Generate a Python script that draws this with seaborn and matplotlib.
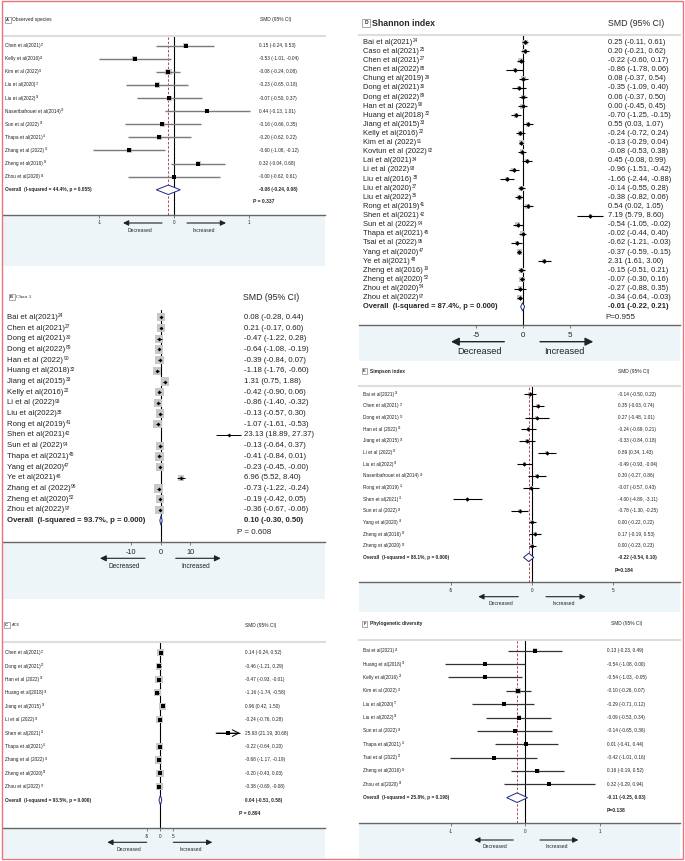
import numpy as np
import pandas as pd
import seaborn as sns
import matplotlib.pyplot as plt
from matplotlib import transforms
from matplotlib.patches import Rectangle, Polygon, FancyArrowPatch

W, H = 685, 861

sns.set_theme(style='white')
plt.rcParams['font.family'] = ['Liberation Sans', 'DejaVu Sans']

# ---- data --------------------------------------------------------------
A_study = ["Chen et al(2021)", "Kelly et al(2016)", "Kim et al (2022)", "Liu et al(2020)",
           "Liu et al(2022)", "Naseribafrouei et al(2014)", "Sun et al (2022)",
           "Thapa et al(2021)", "Zhang et al (2022)", "Zheng et al(2016)", "Zhou et al(2020)"]
A_ref = [27, 22, 91, 37, 36, 40, 94, 45, 96, 19, 54]
A_smd = [0.15, -0.53, -0.08, -0.23, -0.07, 0.44, -0.16, -0.20, -0.60, 0.32, -0.00]
A_lo = [-0.24, -1.01, -0.24, -0.65, -0.50, -0.13, -0.66, -0.62, -1.08, -0.04, -0.62]
A_hi = [0.53, -0.04, 0.08, 0.18, 0.37, 1.01, 0.35, 0.22, -0.12, 0.68, 0.61]
A_overall = [-0.08, -0.24, 0.08]
A_stats = [44.4, 0.055, 0.337]

B_study = ["Bai et al(2021)", "Chen et al(2021)", "Dong et al(2021)", "Dong et al(2022)",
           "Han et al (2022)", "Huang et al(2018)", "Jiang et al(2015)", "Kelly et al(2016)",
           "Li et al (2022)", "Liu et al(2022)", "Rong et al(2019)", "Shen et al(2021)",
           "Sun et al (2022)", "Thapa et al(2021)", "Yang et al(2020)", "Ye et al(2021)",
           "Zhang et al (2022)", "Zheng et al(2020)", "Zhou et al(2022)"]
B_ref = [24, 27, 30, 89, 90, 32, 33, 22, 93, 38, 41, 42, 94, 45, 47, 48, 96, 52, 97]
B_smd = [0.08, 0.21, -0.47, -0.64, -0.39, -1.18, 1.31, -0.42, -0.86, -0.13, -1.07, 23.13,
         -0.13, -0.41, -0.23, 6.96, -0.73, -0.19, -0.36]
B_lo = [-0.28, -0.17, -1.22, -1.08, -0.84, -1.76, 0.75, -0.90, -1.40, -0.57, -1.61, 18.89,
        -0.64, -0.84, -0.45, 5.52, -1.22, -0.42, -0.67]
B_hi = [0.44, 0.60, 0.28, -0.19, 0.07, -0.60, 1.88, 0.06, -0.32, 0.30, -0.53, 27.37,
        0.37, 0.01, -0.00, 8.40, -0.24, 0.05, -0.06]
B_overall = [0.10, -0.30, 0.50]
B_stats = [93.7, 0.000, 0.608]

C_study = ["Chen et al(2021)", "Dong et al(2021)", "Han et al (2022)", "Huang et al(2018)",
           "Jiang et al(2015)", "Li et al (2022)", "Shen et al(2021)", "Thapa et al(2021)",
           "Zhang et al (2022)", "Zheng et al(2020)", "Zhou et al(2022)"]
C_ref = [27, 30, 90, 32, 33, 93, 42, 45, 96, 52, 97]
C_smd = [0.14, -0.46, -0.47, -1.16, 0.96, -0.24, 25.93, -0.22, -0.68, -0.20, -0.38]
C_lo = [-0.24, -1.21, -0.93, -1.74, 0.42, -0.76, 21.19, -0.64, -1.17, -0.43, -0.69]
C_hi = [0.52, 0.29, -0.01, -0.58, 1.50, 0.28, 30.68, 0.20, -0.19, 0.03, -0.08]
C_overall = [0.04, -0.51, 0.58]
C_stats = [93.5, 0.000, 0.894]

D_study = ["Bai et al(2021)", "Caso et al(2021)", "Chen et al(2021)", "Chen et al(2022)",
           "Chung et al(2019)", "Dong et al(2021)", "Dong et al(2022)", "Han et al (2022)",
           "Huang et al(2018)", "Jiang et al(2015)", "Kelly et al(2016)", "Kim et al (2022)",
           "Kovtun et al (2022)", "Lai et al(2021)", "Li et al (2022)", "Liu et al(2016)",
           "Liu et al(2020)", "Liu et al(2022)", "Rong et al(2019)", "Shen et al(2021)",
           "Sun et al (2022)", "Thapa et al(2021)", "Tsai et al (2022)", "Yang et al(2020)",
           "Ye et al(2021)", "Zheng et al(2016)", "Zheng et al(2020)", "Zhou et al(2020)",
           "Zhou et al(2022)"]
D_ref = [24, 25, 27, 88, 29, 30, 89, 90, 32, 33, 22, 91, 92, 34, 93, 38, 37, 36, 41, 42,
         94, 45, 95, 47, 48, 19, 52, 54, 97]
D_smd = [0.25, 0.20, -0.22, -0.86, 0.08, -0.35, 0.06, 0.00, -0.70, 0.55, -0.24, -0.13,
         -0.08, 0.45, -0.96, -1.66, -0.14, -0.38, 0.54, 7.19, -0.54, -0.02, -0.62, -0.37,
         2.31, -0.15, -0.07, -0.27, -0.34]
D_lo = [-0.11, -0.21, -0.60, -1.78, -0.37, -1.09, -0.37, -0.45, -1.25, 0.03, -0.72, -0.29,
        -0.53, -0.08, -1.51, -2.44, -0.55, -0.82, 0.02, 5.79, -1.05, -0.44, -1.21, -0.59,
        1.61, -0.51, -0.30, -0.88, -0.64]
D_hi = [0.61, 0.62, 0.17, 0.06, 0.54, 0.40, 0.50, 0.45, -0.15, 1.07, 0.24, 0.04, 0.38,
        0.99, -0.42, -0.88, 0.28, 0.06, 1.05, 8.60, -0.02, 0.40, -0.03, -0.15, 3.00, 0.21,
        0.16, 0.35, -0.03]
D_overall = [-0.01, -0.22, 0.21]
D_stats = [87.4, 0.000, 0.955]

E_study = ["Bai et al(2021)", "Chen et al(2021)", "Dong et al(2021)", "Han et al (2022)",
           "Jiang et al(2015)", "Li et al (2022)", "Liu et al(2022)",
           "Naseribafrouei et al(2014)", "Rong et al(2019)", "Shen et al(2021)",
           "Sun et al (2022)", "Yang et al(2020)", "Zheng et al(2016)", "Zheng et al(2020)"]
E_ref = [24, 27, 30, 90, 33, 93, 36, 40, 41, 42, 94, 47, 19, 52]
E_smd = [-0.14, 0.35, 0.27, -0.24, -0.33, 0.89, -0.49, 0.30, -0.07, -4.00, -0.78, 0.00,
         0.17, 0.00]
E_lo = [-0.50, -0.03, -0.48, -0.69, -0.84, 0.34, -0.93, -0.27, -0.57, -4.89, -1.30, -0.22,
        -0.19, -0.23]
E_hi = [0.22, 0.74, 1.01, 0.21, 0.18, 1.43, -0.04, 0.86, 0.43, -3.11, -0.25, 0.22, 0.53,
        0.23]
E_overall = [-0.22, -0.54, 0.10]
E_stats = [88.1, 0.000, 0.184]

F_study = ["Bai et al(2021)", "Huang et al(2018)", "Kelly et al(2016)", "Kim et al (2022)",
           "Liu et al(2020)", "Liu et al(2022)", "Sun et al (2022)", "Thapa et al(2021)",
           "Tsai et al (2022)", "Zheng et al(2016)", "Zhou et al(2020)"]
F_ref = [24, 32, 22, 91, 37, 36, 94, 45, 95, 19, 54]
F_smd = [0.13, -0.54, -0.54, -0.10, -0.29, -0.09, -0.14, 0.01, -0.42, 0.16, 0.32]
F_lo = [-0.23, -1.08, -1.03, -0.26, -0.71, -0.53, -0.65, -0.41, -1.01, -0.19, -0.29]
F_hi = [0.49, 0.00, -0.05, 0.07, 0.12, 0.34, 0.36, 0.44, 0.16, 0.52, 0.94]
F_overall = [-0.11, -0.25, 0.03]
F_stats = [25.8, 0.198, 0.138]

# ---- layout (pixels in the 685x861 canvas) -----------------------------
SMALL = dict(fs=3.4, box_fs=3.0, title_fs=3.5, smd_fs=3.5, tick_fs=3.3, dec_fs=3.6,
             p_fs=3.6, p_w='bold', ci_lw=1.0, dot='s', dot_s=5, dh=0.36, d_lw=0.7,
             arr_ms=8, arr_lw=0.8, clip=np.inf, sep_line=True, title_family=None)

GEO_A = dict(SMALL, left=3, right=325, sep=36, axis=215, band=265.7, zero=174.3, ppu=75,
             row0=45.7, step=13.1, lab_x=5, val_x=259, hdr_y=20, box_x=7.8, title_x=12.5,
             title_w='normal', smd_x=260, p_x=253, p_y=201.7, p_fmt='P = {:.3f}',
             ticks=[-1, 0, 1], tick_y=222.7, arrow_y=223, arr_l=(162, 123),
             arr_r=(187, 226), dec_y=230, dec_x=140, inc_x=204, ci='#7a7a7a',
             box=6.5, tau2=0.05, dash=True)

GEO_B = dict(SMALL, left=3, right=325, sep=310, axis=542.3, band=599, zero=160.7, ppu=2.95,
             row0=317.3, step=10.7, lab_x=6.7, val_x=244, fs=5.6, hdr_y=297, box_x=11.7,
             title_x=16.5, title_fs=3.9, title_w='normal', title_family='Liberation Serif',
             smd_x=243, smd_fs=6.3, p_x=237.3, p_y=532.7, p_fmt='P = {:.3f}', p_fs=5.8,
             p_w='normal', ticks=[-10, 0, 10], tick_fs=5.2, tick_y=553, arrow_y=558.3,
             arr_l=(145, 100), arr_r=(175.7, 220.7), dec_y=566, dec_x=124.3, inc_x=196,
             dec_fs=4.7, ci='black', ci_lw=0.7, dot='D', dot_s=4, box=8.5, tau2=0.6,
             dh=0.45, dash=False, sep_line=False, arr_ms=9)

GEO_C = dict(SMALL, left=3, right=325, sep=642, axis=827.7, band=858, zero=160.3, ppu=2.63,
             row0=652.7, step=13.4, lab_x=5, val_x=245, hdr_y=625, box_x=6.8, title_x=11.5,
             title_fs=2.9, title_w='normal', smd_x=245, p_x=239, p_y=813.3,
             p_fmt='P = {:.3f}', ticks=[-5, 0, 5], tick_y=836.7, arrow_y=842.3,
             arr_l=(146.7, 107.3), arr_r=(173.3, 212.3), dec_y=849.3, dec_x=129.3,
             inc_x=191, ci='black', ci_lw=0.7, box=7.5, tau2=0.6, clip=30.3, dash=False)

GEO_D = dict(SMALL, left=359, right=680, sep=35, axis=325, band=361, zero=522.7, ppu=9.36,
             row0=42.3, step=9.12, lab_x=363.3, val_x=608, fs=5.4, hdr_y=23, box_x=366,
             box_fs=3.5, title_x=371.5, title_fs=6.3, title_w='bold', smd_x=608,
             smd_fs=6.3, p_x=605, p_y=317.3, p_fmt='P={:.3f}', p_fs=5.8, p_w='normal',
             ticks=[-5, 0, 5], tick_fs=5.8, tick_y=336, arrow_y=341.7, arr_l=(504.3, 451),
             arr_r=(540, 593.3), dec_y=351.7, dec_x=480, inc_x=564, dec_fs=6.6,
             ci='black', ci_lw=0.8, dot='D', dot_s=6, box=5.5, tau2=0.15, dh=0.45,
             dash=False, arr_ms=12, arr_lw=1.0)

GEO_E = dict(SMALL, left=359, right=680, sep=385.7, axis=581.7, band=612.3, zero=532.3,
             ppu=16.23, row0=394.3, step=11.65, lab_x=363.3, val_x=617.7, hdr_y=371,
             box_x=364.5, title_x=369.5, title_w='bold', smd_x=617.7, p_x=614.3,
             p_y=570.3, p_fmt='P={:.3f}', ticks=[-5, 0, 5], tick_y=590.7, arrow_y=596.7,
             arr_l=(518.3, 478.3), arr_r=(546, 585.7), dec_y=603.7, dec_x=501, inc_x=564,
             ci='black', ci_lw=0.8, dot='D', dot_s=5, box=4.0, tau2=0.2, dash=True)

GEO_F = dict(SMALL, left=359, right=680, sep=640, axis=823.3, band=858, zero=525.3,
             ppu=74.6, row0=650.7, step=13.36, lab_x=363.3, val_x=606.7, hdr_y=624,
             box_x=364.5, title_x=369.5, title_w='bold', smd_x=611, p_x=606.7, p_y=811,
             p_fmt='P={:.3f}', ticks=[-1, 0, 1], tick_y=831.7, arrow_y=840,
             arr_l=(513.3, 474.3), arr_r=(540, 578.3), dec_y=846.7, dec_x=495,
             inc_x=556.7, ci='#333333', ci_lw=0.9, box=6.5, tau2=0.02, dash=True)

BLUE = '#edf5f8'
NAVY = '#1c2a80'
RED_DASH = '#b5475f'
TICK_LEN = 2.5  # points
SUP = 0.62      # superscript size relative to label

fig = plt.figure(figsize=(W / 100, H / 100), dpi=100)


def fx(px):
    return px / W


def fy(py):
    return 1 - py / H


def ftext(x, y, s, **kw):
    kw.setdefault('va', 'center')
    return fig.text(fx(x), fy(y), s, **kw)


def draw_panel(letter, title, study, ref, smd, lo, hi, overall, stats, g):
    n = len(study)
    left, right, sep, axis = g['left'], g['right'], g['sep'], g['axis']
    i2, phet, pval = stats
    est, olo, ohi = overall

    # light blue strip holding the x axis
    fig.add_artist(Rectangle((fx(left), fy(g['band'])), fx(right - left),
                             (g['band'] - axis) / H, transform=fig.transFigure,
                             color=BLUE, lw=0, zorder=0))

    ax = fig.add_axes([fx(left), fy(axis), fx(right - left), (axis - sep) / H])
    ax.set_facecolor('none')

    df = pd.DataFrame({'study': study, 'ref': ref, 'smd': smd, 'lo': lo, 'hi': hi})
    df['row'] = np.arange(n)

    # weight boxes
    se = (df.hi - df.lo) / 3.92
    w = 1 / (se ** 2 + g['tau2'])
    side = g['box'] * np.sqrt(w / w.max())
    ax.scatter(df.smd, df.row, marker='s', s=(side * 0.72) ** 2, color='#c8c8c8',
               lw=0, zorder=2)

    # confidence intervals
    hi_clip = np.minimum(df.hi, g['clip'])
    ax.hlines(df.row, df.lo, hi_clip, color=g['ci'], lw=g['ci_lw'], zorder=3)
    for r in df[df.hi > g['clip']].itertuples():
        ax.annotate('', xy=(g['clip'], r.row), xytext=(r.lo, r.row),
                    arrowprops=dict(arrowstyle='->', color=g['ci'], lw=g['ci_lw'],
                                    shrinkA=0, shrinkB=0))

    sns.scatterplot(data=df, x='smd', y='row', marker=g['dot'], s=g['dot_s'],
                    color='black', linewidth=0, legend=False, ax=ax, zorder=4)

    # pooled estimate
    h = g['dh']
    ax.add_patch(Polygon([(olo, n), (est, n - h), (ohi, n), (est, n + h)], closed=True,
                         fc='white', ec=NAVY, lw=g['d_lw'], zorder=5))

    ax.axvline(0, color='black', lw=0.8, zorder=1)
    if g['dash']:
        ax.axvline(est, color=RED_DASH, lw=0.7, ls=(0, (2.5, 1.8)), zorder=1)

    ax.set_xlim((left - g['zero']) / g['ppu'], (right - g['zero']) / g['ppu'])
    ax.set_ylim((axis - g['row0']) / g['step'], (sep - g['row0']) / g['step'])
    ax.set_xlabel('')
    ax.set_ylabel('')
    ax.set_yticks([])

    for s in ['left', 'right']:
        ax.spines[s].set_visible(False)
    ax.spines['top'].set_visible(g['sep_line'])
    ax.spines['top'].set_color('#dddddd')
    ax.spines['top'].set_linewidth(1.5)
    ax.spines['bottom'].set_color('#666666')
    ax.spines['bottom'].set_linewidth(1.0)

    ax.set_xticks(g['ticks'])
    ax.set_xticklabels([f'{t:g}' for t in g['ticks']])
    font_px = g['tick_fs'] * 100 / 72
    pad = (g['tick_y'] - axis - TICK_LEN * 100 / 72 - 0.55 * font_px) * 72 / 100
    ax.tick_params(axis='x', bottom=True, length=TICK_LEN, width=0.6, color='#666666',
                   labelsize=g['tick_fs'], labelcolor='#222222', pad=max(pad, 0))

    # study labels (reference number as a raised small text) and values
    tr = transforms.blended_transform_factory(fig.transFigure, ax.transData)
    for r in df.itertuples():
        lab = ax.text(fx(g['lab_x']), r.row, r.study, transform=tr, fontsize=g['fs'],
                      va='center', ha='left', color='#222222')
        ax.annotate(str(r.ref), xy=(1, 0.72), xycoords=lab, xytext=(0.4, 0),
                    textcoords='offset points', fontsize=g['fs'] * SUP, va='center',
                    ha='left', color='#222222')
        ax.text(fx(g['val_x']), r.row, f"{r.smd:.2f} ({r.lo:.2f}, {r.hi:.2f})",
                transform=tr, fontsize=g['fs'], va='center', ha='left', color='#222222')
    ax.text(fx(g['lab_x']), n, f"Overall  (I-squared = {i2:.1f}%, p = {phet:.3f})",
            transform=tr, fontsize=g['fs'], va='center', weight='bold')
    ax.text(fx(g['val_x']), n, f"{est:.2f} ({olo:.2f}, {ohi:.2f})", transform=tr,
            fontsize=g['fs'], va='center', weight='bold')
    ftext(g['p_x'], g['p_y'], g['p_fmt'].format(pval), fontsize=g['p_fs'],
          weight=g['p_w'])

    # header
    ftext(g['box_x'], g['hdr_y'], letter, fontsize=g['box_fs'], ha='center',
          weight='bold', bbox=dict(boxstyle='square,pad=0.35', fc='white', ec='#888888',
                                   lw=0.5))
    tkw = dict(fontsize=g['title_fs'], weight=g['title_w'])
    if g['title_family']:
        tkw['family'] = g['title_family']
    ftext(g['title_x'], g['hdr_y'], title, **tkw)
    ftext(g['smd_x'], g['hdr_y'], 'SMD (95% CI)', fontsize=g['smd_fs'])

    # direction arrows
    for x0, x1 in [g['arr_l'], g['arr_r']]:
        fig.add_artist(FancyArrowPatch((fx(x0), fy(g['arrow_y'])), (fx(x1), fy(g['arrow_y'])),
                                       transform=fig.transFigure, arrowstyle='-|>',
                                       mutation_scale=g['arr_ms'], lw=g['arr_lw'],
                                       color='#222222', shrinkA=0, shrinkB=0))
    ftext(g['dec_x'], g['dec_y'], 'Decreased', ha='center', fontsize=g['dec_fs'],
          color='#222222')
    ftext(g['inc_x'], g['dec_y'], 'Increased', ha='center', fontsize=g['dec_fs'],
          color='#222222')
    return ax


draw_panel('A', 'Observed species', A_study, A_ref, A_smd, A_lo, A_hi, A_overall, A_stats, GEO_A)
draw_panel('B', 'Chao 1', B_study, B_ref, B_smd, B_lo, B_hi, B_overall, B_stats, GEO_B)
draw_panel('C', 'ACE', C_study, C_ref, C_smd, C_lo, C_hi, C_overall, C_stats, GEO_C)
draw_panel('D', 'Shannon index', D_study, D_ref, D_smd, D_lo, D_hi, D_overall, D_stats, GEO_D)
draw_panel('E', 'Simpson index', E_study, E_ref, E_smd, E_lo, E_hi, E_overall, E_stats, GEO_E)
draw_panel('F', 'Phylogenetic diversity', F_study, F_ref, F_smd, F_lo, F_hi, F_overall,
           F_stats, GEO_F)

# red frame round the whole figure
fig.add_artist(Rectangle((fx(2), fy(859)), fx(681), 858 / H, transform=fig.transFigure,
                         fill=False, ec='#e8747c', lw=1.0))

fig.savefig('out.png', dpi=100)
